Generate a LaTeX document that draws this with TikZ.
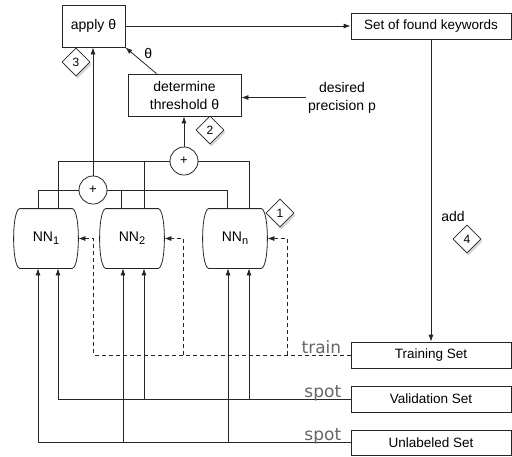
\documentclass[tikz,border=0pt]{standalone}
\usepackage{fontspec}
\setmainfont{Liberation Sans}
\newfontfamily\labfont{DejaVu Sans}
\usetikzlibrary{arrows.meta,shapes.geometric,shadows,calc}
\begin{document}
\begin{tikzpicture}[x=1pt,y=-1pt,
  font=\fontsize{14}{18}\selectfont,
  line width=0.8pt, draw=black!85,
  box/.style={draw, fill=white, inner sep=0pt, align=center},
  setbox/.style={box, minimum width=160, minimum height=26, font=\fontsize{13.5}{16}\selectfont},
  nnbox/.style={inner sep=0pt, minimum width=64, minimum height=59},
  plus/.style={circle, draw, fill=white, inner sep=0pt, minimum size=28, font=\fontsize{13}{14}\selectfont},
  dia/.style={diamond, draw, fill=white, inner sep=0pt, minimum size=28, font=\fontsize{12}{14}\selectfont,
    drop shadow={opacity=0.35, shadow xshift=1.5pt, shadow yshift=-2.5pt}},
  arr/.style={-{Latex[length=7pt,width=5pt]}},
  dsh/.style={dash pattern=on 4pt off 3pt},
  lab/.style={text=black!60, font=\labfont\fontsize{17}{20}\selectfont, inner sep=0pt, anchor=base east}]
\useasboundingbox (0,0) rectangle (512,456);

% boxes
\node[box, minimum width=63, minimum height=42] (apply) at (93.5,26) {apply θ};
\node[box, minimum width=113, minimum height=42] (det) at (184.5,95) {determine\\threshold θ};
\node[setbox] (found) at (431,26) {Set of found keywords};
\node[setbox] (train) at (431,355) {Training Set};
\node[setbox] (valid) at (431,399) {Validation Set};
\node[setbox, minimum height=25] (unl) at (431,442.5) {Unlabeled Set};
\node[align=center, inner sep=2pt] (prec) at (342,97.5) {desired\\precision p};
\node (add) at (453,216) {add};

% NN shapes
\foreach \n/\x/\s in {nn1/46/1, nn2/132/2, nnn/235/n}{
  \node[nnbox] (\n) at (\x,238.5) {NN\raisebox{-0.45ex}{\fontsize{11}{12}\selectfont \s}};
  \draw ($(\n.north west)+(6,0)$) -- ($(\n.north east)+(-6,0)$)
     .. controls +(8,2) and +(8,-2) .. ($(\n.south east)+(-6,0)$)
     -- ($(\n.south west)+(6,0)$)
     .. controls +(-8,-2) and +(-8,2) .. ($(\n.north west)+(6,0)$);
}

% plus circles
\node[plus] (c1) at (93,190) {+};
\node[plus] (c2) at (184,161) {+};

% top connections
\draw ([xshift=-8pt]nn1.north) |- (c1.west);
\draw (c1.east) -| ([xshift=-8pt]nnn.north);
\draw ([xshift=-11pt]nn2.north) -- ([xshift=-11pt]nn2.north |- c1.east);
\draw ([xshift=12pt]nn1.north) |- (c2.west);
\draw ([xshift=12pt]nn2.north) -- ([xshift=12pt]nn2.north |- c2.west);
\draw (c2.east) -| ([xshift=14pt]nnn.north);

\draw[arr] (c1.north) -- (c1.north |- apply.south);
\draw[arr] (c2.north) -- (c2.north |- det.south);
\draw[arr] ($(det.north)+(-28,0)$) -- (apply.south east) node[midway, above right, inner sep=1pt, xshift=2pt] {θ};
\draw[arr] (apply.east) -- (found.west);
\draw[arr] (found.south) -- (train.north);
\draw[arr] (prec.west) -- (prec.west -| det.east);

% inputs
\draw[arr] (unl.west) -| ([xshift=-8pt]nn1.south);
\draw[arr] ([xshift=-9pt]nn2.south |- unl.west) -- ([xshift=-9pt]nn2.south);
\draw[arr] ([xshift=-7pt]nnn.south |- unl.west) -- ([xshift=-7pt]nnn.south);
\draw[arr] (valid.west) -| ([xshift=12pt]nn1.south);
\draw[arr] ([xshift=12pt]nn2.south |- valid.west) -- ([xshift=12pt]nn2.south);
\draw[arr] ([xshift=14pt]nnn.south |- valid.west) -- ([xshift=14pt]nnn.south);

% dashed training
\coordinate (t1) at ($(nn1.east)+(15,0)$);
\coordinate (t2) at ($(nn2.east)+(19,0)$);
\coordinate (tn) at ($(nnn.east)+(20,0)$);
\draw[arr, dsh] (train.west) -| (t1) -- (nn1.east);
\draw[arr, dsh] (t2 |- train.west) -- (t2) -- (nn2.east);
\draw[arr, dsh] (tn |- train.west) -- (tn) -- (nnn.east);

% labels
\node[lab] (ltrain) at ($(train.west)+(-9,-2)$) {train};
\node[lab] (lspot1) at ($(valid.west)+(-9,-2)$) {spot};
\node[lab] (lspot2) at ($(unl.west)+(-9,-2)$) {spot};

% diamonds
\node[dia] (d1) at (280,213) {1};
\node[dia] (d2) at (210,130) {2};
\node[dia] (d3) at (76,62) {3};
\node[dia] (d4) at (467,239) {4};
\end{tikzpicture}
\end{document}
